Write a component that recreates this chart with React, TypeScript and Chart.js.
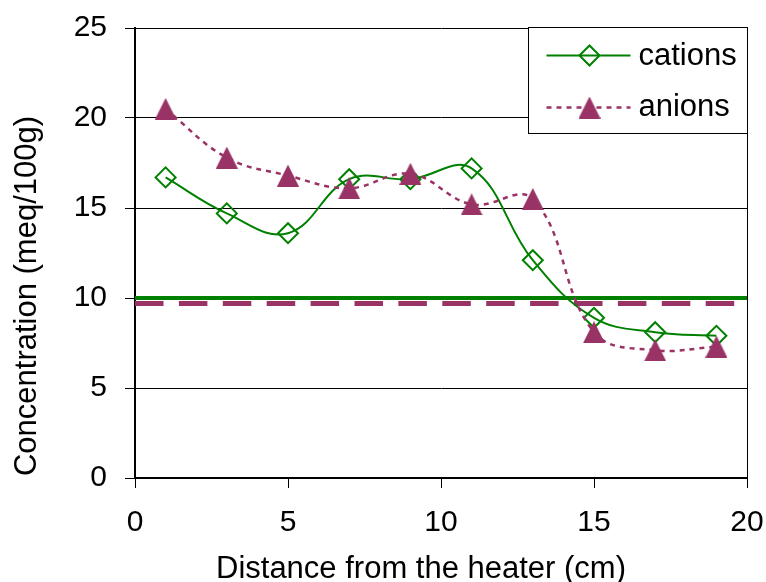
import { useEffect, useRef } from "react";
import { Chart, registerables } from "chart.js";

Chart.register(...registerables);

// Sampling positions along the profile (cm from the heater)
const distances = [1, 3, 5, 7, 9, 11, 13, 15, 17, 19];
// Exchangeable ion concentrations (meq/100g)
const cations = [16.7, 14.7, 13.6, 16.6, 16.6, 17.2, 12.1, 8.9, 8.1, 7.9];
const anions = [20.5, 17.8, 16.8, 16.1, 16.9, 15.2, 15.5, 8.1, 7.1, 7.3];
// Initial (reference) levels
const cationLevel = 10.0;
const anionLevel = 9.7;

const xTicks = [0, 5, 10, 15, 20];
const yTicks = [0, 5, 10, 15, 20, 25];
const seriesNames = ["cations", "anions"];
const xTitle = "Distance from the heater (cm)";
const yTitle = "Concentration (meq/100g)";

const GREEN = "#008000";
const PURPLE = "#993366";
const FONT = "'Liberation Sans', Arial, Helvetica, sans-serif";

function makeTriangle(size: number, color: string): HTMLCanvasElement {
  const c = document.createElement("canvas");
  c.width = size;
  c.height = size;
  const g = c.getContext("2d")!;
  g.fillStyle = color;
  g.beginPath();
  g.moveTo(size / 2, 0);
  g.lineTo(size, size);
  g.lineTo(0, size);
  g.closePath();
  g.fill();
  return c;
}

function drawDiamond(ctx: CanvasRenderingContext2D, x: number, y: number, r: number) {
  ctx.beginPath();
  ctx.moveTo(x - r, y);
  ctx.lineTo(x, y - r);
  ctx.lineTo(x + r, y);
  ctx.lineTo(x, y + r);
  ctx.closePath();
  ctx.stroke();
}

export default function App() {
  const canvasRef = useRef<HTMLCanvasElement | null>(null);

  useEffect(() => {
    const canvas = canvasRef.current;
    if (!canvas) return;
    const triangle = makeTriangle(22, PURPLE);

    const overlay = {
      id: "overlay",
      afterDraw(chart: any) {
        const ctx: CanvasRenderingContext2D = chart.ctx;
        const { right, top, bottom } = chart.chartArea;
        ctx.save();

        // right-hand frame line
        const rx = Math.round(right - 0.5) + 0.5;
        ctx.strokeStyle = "#000";
        ctx.lineWidth = 1;
        ctx.beginPath();
        ctx.moveTo(rx, top);
        ctx.lineTo(rx, bottom);
        ctx.stroke();

        // legend box
        const lw = 219;
        const lh = 106;
        const lx = rx - lw;
        const ly = Math.round(top) - 0.5;
        ctx.fillStyle = "#fff";
        ctx.fillRect(lx, ly, lw, lh);
        ctx.strokeRect(lx, ly, lw, lh);

        const lineX0 = lx + 18;
        const lineX1 = lx + 102;
        const markX = lx + 61;
        const textX = lx + 110;
        const y1 = ly + 28;
        const y2 = ly + 80;

        ctx.strokeStyle = GREEN;
        ctx.lineWidth = 2;
        ctx.beginPath();
        ctx.moveTo(lineX0, y1);
        ctx.lineTo(lineX1, y1);
        ctx.stroke();
        drawDiamond(ctx, markX, y1, 10);

        ctx.strokeStyle = PURPLE;
        ctx.lineWidth = 2.5;
        ctx.setLineDash([5, 5]);
        ctx.beginPath();
        ctx.moveTo(lineX0, y2);
        ctx.lineTo(lineX1, y2);
        ctx.stroke();
        ctx.setLineDash([]);
        ctx.drawImage(triangle, markX - 11, y2 - 11);

        ctx.fillStyle = "#000";
        ctx.font = `31px ${FONT}`;
        ctx.textAlign = "left";
        ctx.textBaseline = "alphabetic";
        ctx.fillText(seriesNames[0], textX, y1 + 9.5);
        ctx.fillText(seriesNames[1], textX, y2 + 8);

        // axis titles
        ctx.textAlign = "center";
        ctx.fillText(xTitle, 421, 578);
        ctx.translate(36, 296);
        ctx.rotate(-Math.PI / 2);
        ctx.fillText(yTitle, 0, 0);
        ctx.restore();
      },
    };

    const chart = new Chart(canvas, {
      type: "line",
      data: {
        datasets: [
          {
            label: seriesNames[1],
            data: distances.map((x, i) => ({ x, y: anions[i] })),
            borderColor: PURPLE,
            borderWidth: 2.5,
            borderDash: [5, 5],
            tension: 0.4,
            pointStyle: triangle,
            pointRadius: 11,
            pointBackgroundColor: PURPLE,
            pointBorderWidth: 0,
            order: 0,
          },
          {
            label: seriesNames[0],
            data: distances.map((x, i) => ({ x, y: cations[i] })),
            borderColor: GREEN,
            borderWidth: 2,
            tension: 0.4,
            pointStyle: "rectRot",
            pointRadius: 10,
            pointBorderColor: GREEN,
            pointBorderWidth: 2,
            pointBackgroundColor: "rgba(0,0,0,0)",
            order: 1,
          },
          {
            label: "cation level",
            data: [
              { x: xTicks[0], y: cationLevel },
              { x: xTicks[xTicks.length - 1], y: cationLevel },
            ],
            borderColor: GREEN,
            borderWidth: 4,
            pointRadius: 0,
            tension: 0,
            order: 2,
          },
          {
            label: "anion level",
            data: [
              { x: xTicks[0], y: anionLevel },
              { x: xTicks[xTicks.length - 1], y: anionLevel },
            ],
            borderColor: PURPLE,
            borderWidth: 5,
            borderDash: [28.5, 15.4],
            pointRadius: 0,
            tension: 0,
            order: 3,
          },
        ],
      },
      options: {
        responsive: false,
        animation: false,
        devicePixelRatio: 1,
        layout: { padding: { left: 0, top: 28, right: 19, bottom: 0 } },
        plugins: {
          legend: { display: false },
          tooltip: { enabled: false },
        },
        scales: {
          x: {
            type: "linear",
            min: xTicks[0],
            max: xTicks[xTicks.length - 1],
            afterBuildTicks: (scale: any) => {
              scale.ticks = xTicks.map((v) => ({ value: v }));
            },
            afterFit: (scale: any) => {
              scale.height = 104;
              scale.paddingLeft = 0;
              scale.paddingRight = 0;
            },
            grid: {
              drawOnChartArea: false,
              drawTicks: true,
              tickLength: 10,
              tickColor: "#000",
              tickWidth: 1,
            },
            border: { color: "#000", width: 2 },
            ticks: {
              font: { family: FONT, size: 30 },
              color: "#000",
              padding: 17,
              maxRotation: 0,
              autoSkip: false,
            },
          },
          y: {
            type: "linear",
            min: yTicks[0],
            max: yTicks[yTicks.length - 1],
            afterBuildTicks: (scale: any) => {
              scale.ticks = yTicks.map((v) => ({ value: v }));
            },
            afterFit: (scale: any) => {
              scale.width = 135;
              scale.paddingTop = 0;
              scale.paddingBottom = 0;
            },
            grid: {
              color: "#000",
              lineWidth: 1,
              drawTicks: true,
              tickLength: 10,
              tickColor: "#000",
            },
            border: { color: "#000", width: 2 },
            ticks: {
              font: { family: FONT, size: 30 },
              color: "#000",
              padding: 18,
            },
          },
        },
      },
      plugins: [overlay],
    } as any);

    return () => chart.destroy();
  }, []);

  return (
    <div style={{ position: "fixed", left: 0, top: 0, width: 766, height: 582, background: "#fff" }}>
      <canvas ref={canvasRef} width={766} height={582} style={{ width: 766, height: 582, display: "block" }} />
    </div>
  );
}
